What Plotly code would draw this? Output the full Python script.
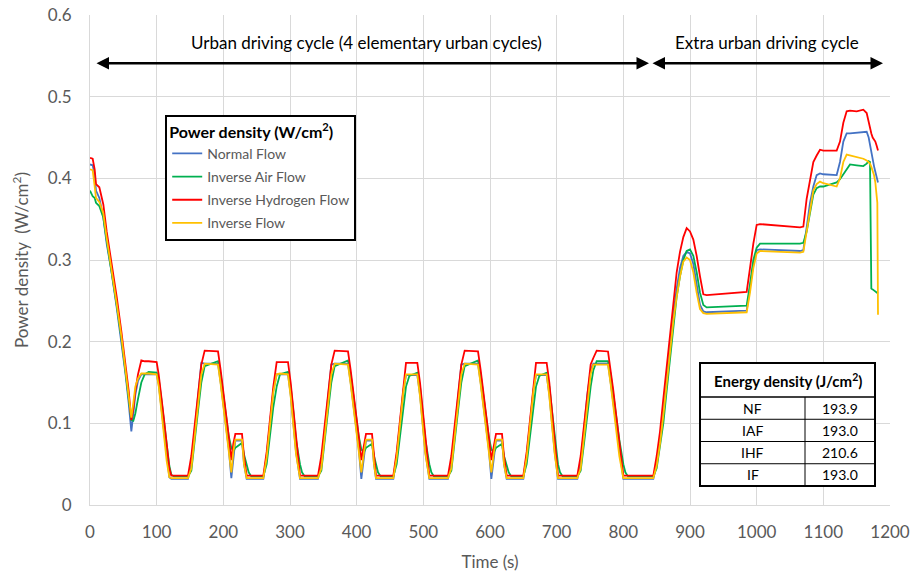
import plotly.graph_objects as go

# ---------------- DATA ----------------
time_s = [
    # start + first low peak
    0, 4, 7, 9, 14, 20, 25, 32, 40, 47, 53, 58, 62, 65, 68, 72, 77, 82, 88, 100, 103, 107, 111, 115, 119, 122, 126,
    147,
    # high peak 1 + mini
    152, 157, 162, 167, 172, 192, 196, 200, 204, 208, 212, 215, 218, 228, 231, 235, 238, 242,
    260,
    # low peak 2
    265, 270, 275, 280, 285, 297, 301, 305, 309, 315, 318, 322,
    342,
    # high peak 2 + mini
    347, 352, 357, 362, 367, 387, 391, 395, 399, 403, 407, 411, 414, 423, 426, 429, 432, 436,
    455,
    # low peak 3
    460, 465, 470, 474, 479, 491, 495, 499, 503, 509, 512, 516,
    537,
    # high peak 3 + mini
    542, 547, 552, 557, 562, 582, 586, 590, 594, 598, 602, 606, 609, 618, 621, 625, 628, 632,
    650,
    # low peak 4
    655, 660, 665, 669, 674, 685, 689, 693, 697, 702, 705, 709,
    731,
    # high peak 4
    736, 741, 746, 751, 755, 760, 777, 781, 785, 789, 794, 800, 803, 807,
    845,
    # extra urban
    850, 855, 860, 865, 870, 875, 880, 885, 890, 895, 900, 905, 910, 915, 920, 925, 985, 990, 995, 1000, 1005,
    1065, 1070, 1075, 1080, 1085, 1090, 1095, 1100, 1120, 1125, 1130, 1135, 1140, 1150, 1160, 1165, 1168, 1170,
    1172, 1174, 1176, 1178, 1180, 1181, 1182,
]

normal_flow = [
    .417, .416, .405, .385, .376, .352, .320, .287, .242, .202, .162, .125, .090, .112, .135, .152, .160, .160, .160, .160, .148, .118, .088, .058, .034, .032, .032,
    .032,
    .050, .090, .135, .174, .173, .173, .150, .125, .100, .070, .033, .060, .079, .079, .050, .032, .032, .032,
    .032,
    .060, .100, .140, .160, .160, .160, .135, .100, .065, .032, .032, .032,
    .032,
    .050, .090, .135, .172, .173, .173, .150, .125, .100, .070, .032, .060, .079, .079, .050, .032, .032, .032,
    .032,
    .060, .100, .140, .159, .159, .159, .135, .100, .065, .032, .032, .032,
    .032,
    .050, .090, .135, .172, .173, .173, .150, .125, .100, .070, .032, .060, .079, .079, .050, .032, .032, .032,
    .032,
    .060, .100, .140, .159, .159, .159, .135, .100, .065, .032, .032, .032,
    .032,
    .050, .090, .135, .165, .173, .173, .173, .150, .125, .100, .065, .032, .032, .032,
    .032,
    .050, .080, .120, .160, .200, .235, .265, .290, .305, .310, .308, .295, .270, .245, .237, .236, .238, .265, .295, .312, .313,
    .311, .312, .340, .370, .390, .404, .406, .405, .404, .420, .445, .455, .455, .456, .457, .457, .450, .440,
    .432, .425, .415, .408, .400, .397, .395,
]

inverse_air_flow = [
    .385, .378, .376, .370, .366, .352, .324, .289, .245, .205, .165, .130, .104, .103, .112, .130, .150, .160, .163, .162, .155, .130, .105, .075, .048, .037, .035,
    .035,
    .042, .075, .115, .150, .170, .176, .160, .135, .110, .085, .070, .066, .070, .076, .062, .050, .040, .035,
    .035,
    .050, .085, .120, .145, .160, .163, .145, .115, .080, .050, .040, .035,
    .035,
    .042, .075, .115, .150, .170, .177, .160, .135, .110, .085, .068, .065, .070, .075, .060, .050, .040, .035,
    .035,
    .050, .085, .120, .145, .158, .162, .145, .115, .080, .050, .040, .035,
    .035,
    .042, .075, .115, .150, .170, .177, .160, .135, .110, .085, .068, .065, .070, .075, .060, .050, .040, .035,
    .035,
    .050, .085, .120, .145, .158, .162, .145, .115, .080, .050, .040, .035,
    .035,
    .042, .075, .110, .145, .165, .176, .176, .160, .135, .110, .080, .050, .040, .035,
    .035,
    .045, .070, .100, .140, .180, .220, .255, .280, .300, .311, .313, .305, .285, .260, .245, .242, .244, .270, .300, .315, .320,
    .320, .321, .335, .360, .380, .388, .390, .390, .395, .399, .405, .412, .417, .416, .415, .418, .421, .420,
    .265, .264, .263, .262, .261, .260, .259,
]

inverse_hydrogen_flow = [
    .425, .424, .411, .393, .389, .368, .335, .300, .255, .213, .175, .140, .104, .118, .140, .160, .177, .176, .176, .175, .160, .135, .105, .075, .045, .036, .036,
    .036,
    .060, .100, .140, .172, .189, .188, .165, .140, .115, .085, .055, .075, .087, .087, .060, .036, .036, .036,
    .036,
    .065, .105, .145, .175, .175, .175, .150, .115, .080, .036, .036, .036,
    .036,
    .060, .100, .140, .172, .189, .188, .165, .140, .112, .085, .055, .075, .087, .087, .060, .036, .036, .036,
    .036,
    .065, .105, .145, .174, .174, .174, .150, .115, .080, .036, .036, .036,
    .036,
    .060, .100, .140, .172, .189, .188, .165, .140, .112, .085, .055, .075, .087, .087, .060, .036, .036, .036,
    .036,
    .065, .105, .145, .174, .174, .174, .150, .115, .080, .036, .036, .036,
    .036,
    .060, .100, .140, .172, .180, .189, .188, .165, .140, .112, .080, .036, .036, .036,
    .036,
    .060, .090, .130, .170, .210, .250, .285, .310, .328, .339, .335, .325, .305, .280, .258, .257, .261, .290, .320, .343, .344,
    .340, .341, .375, .400, .420, .428, .435, .434, .434, .445, .468, .482, .483, .482, .484, .480, .468, .462,
    .455, .450, .448, .445, .440, .437, .434,
]

inverse_flow = [
    .411, .410, .390, .376, .371, .357, .327, .292, .247, .207, .167, .135, .107, .125, .145, .155, .161, .161, .161, .160, .146, .116, .084, .054, .034, .033, .033,
    .033,
    .045, .085, .125, .160, .173, .172, .148, .120, .095, .068, .040, .065, .080, .080, .050, .033, .033, .033,
    .033,
    .058, .098, .138, .160, .161, .160, .133, .098, .063, .033, .033, .033,
    .033,
    .045, .085, .125, .160, .173, .172, .148, .120, .095, .068, .040, .065, .080, .080, .050, .033, .033, .033,
    .033,
    .058, .098, .138, .160, .160, .160, .133, .098, .063, .033, .033, .033,
    .033,
    .045, .085, .125, .160, .173, .172, .148, .120, .095, .068, .040, .065, .080, .080, .050, .033, .033, .033,
    .033,
    .058, .098, .138, .160, .160, .160, .133, .098, .063, .033, .033, .033,
    .033,
    .045, .085, .125, .160, .172, .172, .172, .148, .120, .095, .060, .033, .033, .033,
    .033,
    .048, .075, .110, .150, .190, .225, .255, .280, .298, .303, .300, .285, .260, .240, .235, .234, .236, .260, .290, .308, .311,
    .309, .310, .335, .365, .385, .393, .396, .394, .390, .400, .420, .429, .428, .426, .424, .422, .420, .418,
    .414, .409, .404, .395, .380, .370, .233,
]

series_names = ["Normal Flow", "Inverse Air Flow", "Inverse Hydrogen Flow", "Inverse Flow"]
series_values = [normal_flow, inverse_air_flow, inverse_hydrogen_flow, inverse_flow]
series_colors = ["#4472C4", "#00B050", "#FF0000", "#FFC000"]

table_labels = ["NF", "IAF", "IHF", "IF"]
table_values = ["193.9", "193.0", "210.6", "193.0"]

x_ticks = list(range(0, 1201, 100))
y_ticks = [0, 0.1, 0.2, 0.3, 0.4, 0.5, 0.6]

# ---------------- FIGURE ----------------
FONT = "Lato"
GRAY = "#595959"

fig = go.Figure()
for i, (name, vals, col) in enumerate(zip(series_names, series_values, series_colors)):
    fig.add_trace(go.Scatter(
        x=time_s, y=vals, mode="lines", name=name,
        line=dict(color=col, width=1.8), legendgroup=f"g{i}",
    ))

fig.update_layout(
    width=911, height=577,
    margin=dict(l=90, r=21, t=15, b=72),
    paper_bgcolor="white", plot_bgcolor="white",
    font=dict(family=FONT, color=GRAY, size=17),
    showlegend=True,
    legend=dict(
        x=0.094, y=0.796, xanchor="left", yanchor="top",
        bgcolor="white", bordercolor="black", borderwidth=2,
        font=dict(family=FONT, size=14, color=GRAY),
        title=dict(text="<b>Power density (W/cm<sup>2</sup>)</b>",
                   font=dict(family=FONT, size=16, color="black")),
        tracegroupgap=2, itemwidth=30,
    ),
)

fig.update_xaxes(
    range=[0, 1200], tickvals=x_ticks, showgrid=True, gridcolor="#d9d9d9", gridwidth=1,
    showline=True, linecolor="#d9d9d9", linewidth=1, zeroline=False, ticks="",
    tickfont=dict(family=FONT, size=17, color=GRAY), ticklabelstandoff=12,
    title=dict(text="Time (s)", font=dict(family=FONT, size=17, color=GRAY), standoff=14),
    automargin=False,
)
fig.update_yaxes(
    range=[0, 0.6], tickvals=y_ticks, showgrid=True, gridcolor="#d9d9d9", gridwidth=1,
    showline=True, linecolor="#d9d9d9", linewidth=1, zeroline=False, ticks="",
    tickfont=dict(family=FONT, size=17, color=GRAY), ticklabelstandoff=14,
    title=dict(text="Power density  (W/cm<sup>2</sup>)", font=dict(family=FONT, size=17, color=GRAY), standoff=14),
    automargin=False,
)

# cycle arrows
arrow_y = 0.541
for x0, x1 in [(7.5, 838.5), (841.5, 1189.5)]:
    fig.add_annotation(
        x=x1, y=arrow_y, ax=x0, ay=arrow_y, xref="x", yref="y", axref="x", ayref="y",
        text="", showarrow=True, arrowhead=2, arrowside="end+start",
        arrowsize=1.0, arrowwidth=2.5, arrowcolor="black", standoff=0, startstandoff=0,
    )
fig.add_annotation(x=415, y=0.566, xref="x", yref="y", showarrow=False,
                   text="Urban driving cycle (4 elementary urban cycles)",
                   font=dict(family=FONT, size=17, color="black"))
fig.add_annotation(x=1015, y=0.566, xref="x", yref="y", showarrow=False,
                   text="Extra urban driving cycle",
                   font=dict(family=FONT, size=17, color="black"))

# energy density table (in data coordinates)
tx0, tx1, txm = 915, 1177.5, 1072.5
ty_top, ty_head = 0.1739, 0.1322
ty_bottom = 0.0233
row_h = (ty_head - ty_bottom) / len(table_labels)
fig.add_shape(type="rect", x0=tx0, x1=tx1, y0=ty_bottom, y1=ty_top, xref="x", yref="y",
              fillcolor="white", line=dict(color="black", width=2), layer="above")
fig.add_shape(type="line", x0=tx0, x1=tx1, y0=ty_head, y1=ty_head, xref="x", yref="y",
              line=dict(color="black", width=1.5))
for k in range(1, len(table_labels)):
    yy = ty_head - k * row_h
    fig.add_shape(type="line", x0=tx0, x1=tx1, y0=yy, y1=yy, xref="x", yref="y",
                  line=dict(color="black", width=1))
fig.add_shape(type="line", x0=txm, x1=txm, y0=ty_bottom, y1=ty_head, xref="x", yref="y",
              line=dict(color="black", width=1))
fig.add_annotation(x=(tx0 + tx1) / 2, y=(ty_top + ty_head) / 2, xref="x", yref="y", showarrow=False,
                   text="<b>Energy density (J/cm<sup>2</sup>)</b>",
                   font=dict(family=FONT, size=15, color="black"))
for k, (lab, val) in enumerate(zip(table_labels, table_values)):
    yc = ty_head - (k + 0.5) * row_h
    fig.add_annotation(x=(tx0 + txm) / 2, y=yc, xref="x", yref="y", showarrow=False,
                       text=lab, font=dict(family=FONT, size=14, color="black"))
    fig.add_annotation(x=(txm + tx1) / 2, y=yc, xref="x", yref="y", showarrow=False,
                       text=val, font=dict(family=FONT, size=14, color="black"))

fig.write_html("out.html")
